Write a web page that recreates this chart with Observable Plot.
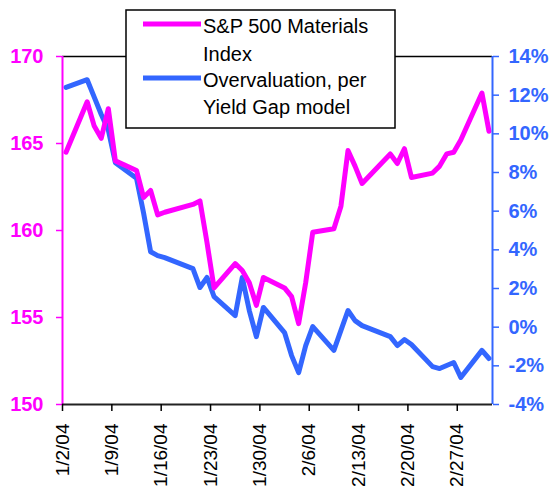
<!DOCTYPE html>
<html>
<head>
<meta charset="utf-8">
<script src="https://cdn.jsdelivr.net/npm/d3@7"></script>
<script src="https://cdn.jsdelivr.net/npm/@observablehq/plot@0.6"></script>
<style>
  html, body { margin: 0; padding: 0; background: #fff; }
  #chart { width: 549px; height: 493px; }
</style>
</head>
<body>
<div id="chart"></div>
<script>
// ---- data ----
const dates = [
  "2004-01-02","2004-01-05","2004-01-06","2004-01-07","2004-01-08","2004-01-09",
  "2004-01-12","2004-01-13","2004-01-14","2004-01-15","2004-01-16",
  "2004-01-20","2004-01-21","2004-01-22","2004-01-23",
  "2004-01-26","2004-01-27","2004-01-28","2004-01-29","2004-01-30",
  "2004-02-02","2004-02-03","2004-02-04","2004-02-05","2004-02-06",
  "2004-02-09","2004-02-10","2004-02-11","2004-02-12","2004-02-13",
  "2004-02-17","2004-02-18","2004-02-19","2004-02-20",
  "2004-02-23","2004-02-24","2004-02-25","2004-02-26","2004-02-27",
  "2004-03-01","2004-03-02"
];
const materialsIndex = [
  164.5, 167.4, 166.0, 165.3, 167.0, 164.0,
  163.45, 161.9, 162.3, 160.9, 161.05,
  161.5, 161.7, 159.3, 156.7,
  158.1, 157.7, 157.0, 155.7, 157.3,
  156.7, 156.2, 154.65, 157.0, 159.9,
  160.1, 161.4, 164.6, 163.7, 162.7,
  164.4, 163.85, 164.7, 163.05,
  163.3, 163.7, 164.4, 164.5, 165.2,
  167.9, 165.7
];
const overvaluation = [
  12.4, 12.8, 11.9, 11.0, 10.2, 8.5,
  7.7, 5.9, 3.9, 3.7, 3.6,
  3.03, 2.05, 2.57, 1.58,
  0.6, 2.57, 0.86, -0.49, 1.02,
  -0.28, -1.47, -2.35, -0.95, 0.03,
  -1.2, -0.17, 0.86, 0.34, 0.08,
  -0.49, -0.95, -0.64, -0.9,
  -2.04, -2.14, -1.98, -1.83, -2.6,
  -1.2, -1.62
];
const tickDates = ["2004-01-02","2004-01-09","2004-01-16","2004-01-23","2004-01-30","2004-02-06","2004-02-13","2004-02-20","2004-02-27"];
const leftTicks = [150, 155, 160, 165, 170];
const rightTicks = [-4, -2, 0, 2, 4, 6, 8, 10, 12, 14];
const seriesNames = ["S&P 500 Materials", "Index", "Overvaluation, per", "Yield Gap model"];

// ---- helpers ----
const MAGENTA = "#FF00FF";
const BLUE = "#3366FF";
const FONT = "'Liberation Sans', Arial, Helvetica, sans-serif";
const parse = (s, h = 0) => { const [y, m, d] = s.split("-").map(Number); return new Date(Date.UTC(y, m - 1, d, h)); };
const leftDomain = [150, 170];
const rightDomain = [-4, 14];
const toLeft = p => leftDomain[0] + (p - rightDomain[0]) * (leftDomain[1] - leftDomain[0]) / (rightDomain[1] - rightDomain[0]);
const fromLeft = v => rightDomain[0] + (v - leftDomain[0]) * (rightDomain[1] - rightDomain[0]) / (leftDomain[1] - leftDomain[0]);
const xDomain = [parse("2004-01-02"), parse("2004-03-03")];

// points sit in the middle of each day's slot
const matData = dates.map((d, i) => ({date: parse(d, 12), value: materialsIndex[i]}));
const ovData = dates.map((d, i) => ({date: parse(d, 12), value: toLeft(overvaluation[i])}));

const fmtDate = d => `${d.getUTCMonth() + 1}/${d.getUTCDate()}/${String(d.getUTCFullYear()).slice(2)}`;

const svg = Plot.plot({
  width: 549,
  height: 493,
  marginLeft: 62,
  marginRight: 57,
  marginTop: 56,
  marginBottom: 89,
  style: {fontFamily: FONT, background: "#fff", overflow: "visible"},
  x: {type: "utc", domain: xDomain},
  y: {domain: leftDomain},
  marks: [
    Plot.ruleY([leftDomain[1]], {stroke: "#000", strokeWidth: 1.5}),
    Plot.line(ovData, {x: "date", y: "value", stroke: BLUE, strokeWidth: 5}),
    Plot.line(matData, {x: "date", y: "value", stroke: MAGENTA, strokeWidth: 5}),
    Plot.ruleX([xDomain[0]], {stroke: MAGENTA, strokeWidth: 2}),
    Plot.ruleX([xDomain[1]], {stroke: BLUE, strokeWidth: 2}),
    Plot.ruleY([leftDomain[0]], {stroke: "#222", strokeWidth: 2}),
    Plot.axisY({
      anchor: "left", ticks: leftTicks, tickSize: 6, tickPadding: 13,
      stroke: MAGENTA, fill: MAGENTA, color: MAGENTA, strokeWidth: 1.5,
      fontSize: 20, fontWeight: "bold", label: null, tickFormat: d => String(d)
    }),
    Plot.axisY({
      anchor: "right", ticks: rightTicks.map(toLeft), tickSize: 6, tickPadding: 10,
      stroke: BLUE, fill: BLUE, color: BLUE, strokeWidth: 1.5,
      fontSize: 20, fontWeight: "bold", label: null,
      tickFormat: d => Math.round(fromLeft(d)) + "%"
    }),
    Plot.axisX({
      ticks: tickDates.map(s => parse(s)), tickSize: 7, tickPadding: 12, tickRotate: -90,
      stroke: "#000", fill: "#000", strokeWidth: 1.5,
      fontSize: 19, label: null, tickFormat: fmtDate
    })
  ]
});

// legend box overlapping the plot top
const g = d3.select(svg).append("g")
  .attr("font-family", FONT).attr("font-size", 20).attr("text-anchor", "start");
g.append("rect").attr("x", 126).attr("y", 10).attr("width", 269).attr("height", 118)
  .attr("fill", "#fff").attr("stroke", "#000").attr("stroke-width", 1.5);
g.append("line").attr("x1", 143).attr("x2", 201).attr("y1", 24).attr("y2", 24)
  .attr("stroke", MAGENTA).attr("stroke-width", 5);
g.append("line").attr("x1", 143).attr("x2", 201).attr("y1", 78).attr("y2", 78)
  .attr("stroke", BLUE).attr("stroke-width", 5);
const baselines = [33, 61, 87, 114];
seriesNames.forEach((t, i) => {
  g.append("text").attr("x", 203).attr("y", baselines[i])
    .attr("text-anchor", "start").attr("fill", "#000").text(t);
});

document.getElementById("chart").appendChild(svg);
</script>
</body>
</html>
